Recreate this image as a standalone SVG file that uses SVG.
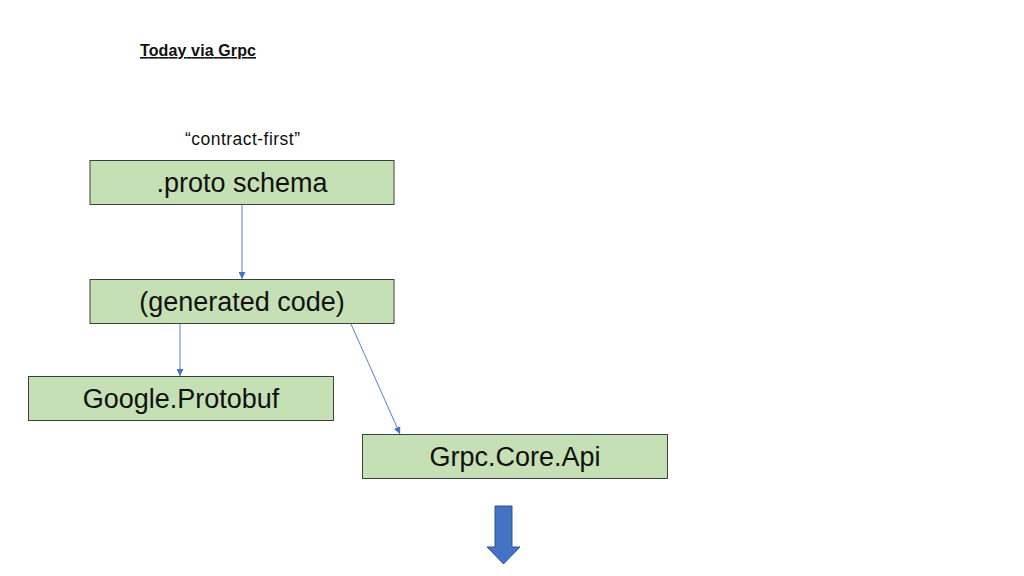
<svg xmlns="http://www.w3.org/2000/svg" width="1024" height="576" viewBox="0 0 1024 576">
<defs>
<style>
.box{fill:#C5E0B4;stroke:#3F3F3F;stroke-width:1}
.lbl{font-family:"Liberation Sans",Arial,sans-serif;font-size:27px;fill:#111;text-anchor:middle}
.conn{stroke:#4472C4;stroke-width:0.9;fill:none;marker-end:url(#ah)}
</style>
<marker id="ah" viewBox="0 0 10 10" refX="10" refY="5" markerWidth="7" markerHeight="7" markerUnits="userSpaceOnUse" orient="auto">
<path d="M0,0 L10,5 L0,10 z" fill="#4472C4"/>
</marker>
</defs>
<rect width="1024" height="576" fill="#fff"/>
<text x="140" y="56" font-family="'Liberation Sans',Arial,sans-serif" font-size="16" font-weight="bold" text-decoration="underline" fill="#111" textLength="116">Today via Grpc</text>
<text x="185" y="145" font-family="'Liberation Sans',Arial,sans-serif" font-size="17.5" fill="#111" textLength="115">“contract-first”</text>
<g id="connectors">
<line class="conn" x1="242" y1="205" x2="242" y2="279"/>
<line class="conn" x1="180" y1="324" x2="180" y2="376"/>
<line class="conn" x1="351" y1="324" x2="400" y2="434"/>
</g>
<g id="proto">
<rect class="box" x="90" y="160.5" width="304" height="44"/>
<text class="lbl" x="242" y="192">.proto schema</text>
</g>
<g id="generated">
<rect class="box" x="90" y="279.5" width="304" height="44"/>
<text class="lbl" x="242" y="311">(generated code)</text>
</g>
<g id="protobuf">
<rect class="box" x="28.5" y="376.5" width="305" height="44"/>
<text class="lbl" x="181" y="408">Google.Protobuf</text>
</g>
<g id="grpccore">
<rect class="box" x="362.5" y="434.5" width="305" height="44"/>
<text class="lbl" x="515" y="466">Grpc.Core.Api</text>
</g>
<g id="bigarrow">
<path d="M495,506 L512,506 L512,547 L520,547 L503.5,564 L487,547 L495,547 z" fill="#4472C4" stroke="#2F528F" stroke-width="1"/>
</g>
</svg>
